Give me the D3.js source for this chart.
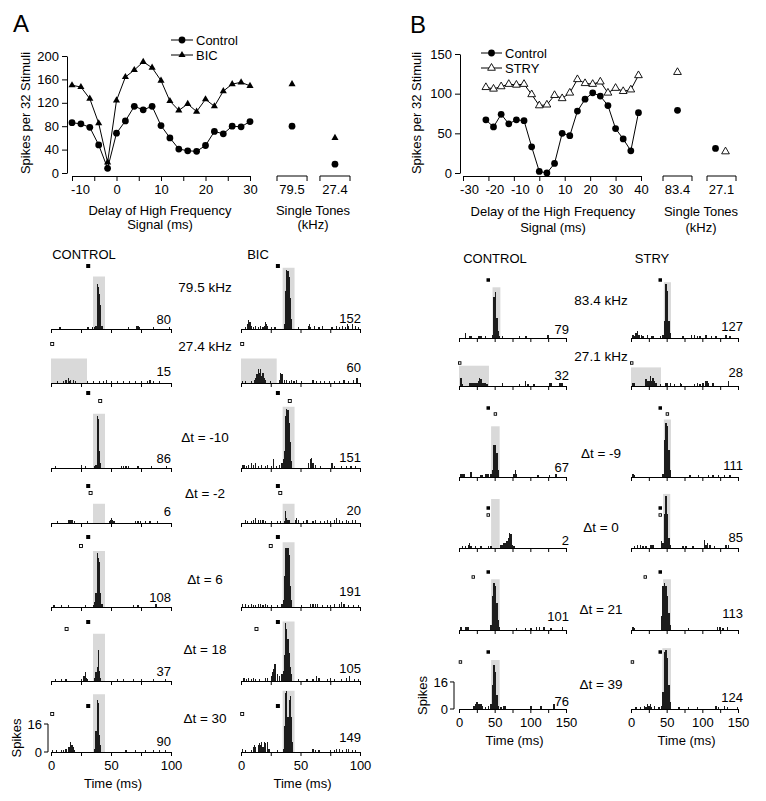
<!DOCTYPE html>
<html><head><meta charset="utf-8">
<script src="https://cdn.jsdelivr.net/npm/d3@7"></script>
<style>
body{margin:0;background:#fff}
svg{display:block}
text{font-family:"Liberation Sans",Arial,Helvetica,sans-serif;fill:#000}
</style>
</head><body>
<svg id="c" width="766" height="801"></svg>
<script>
// ---------------- DATA ----------------
// Panel A: delay functions
const delaysA = [-10,-8,-6,-4,-2,0,2,4,6,8,10,12,14,16,18,20,22,24,26,28,30];
const controlA = [86,84,78,48,8,68,89,114,108,114,81,60,41,38,37,47,71,67,80,79,88];
const bicA = [150,147,127,85,18,124,164,176,190,180,158,123,107,118,105,126,114,140,152,155,149];
const tonesA = ["79.5","27.4"];
const toneControlA = [80,15];
const toneBicA = [152,60];
const xTicksA = [-10,-5,0,5,10,15,20,25,30];
const xLabelsA = [-10,0,10,20,30];
const yTicksA = [0,40,80,120,160,200];

// Panel B: delay functions
const delaysB = [-21,-18,-15,-12,-9,-6,-3,0,3,6,9,12,15,18,21,24,27,30,33,36,39];
const controlB = [67,58,74,62,67,66,33,2,0,12,50,47,78,93,101,97,85,56,43,28,76];
const stryB = [108,106,109,112,111,112,99,85,86,98,94,101,118,113,112,115,101,107,103,105,123];
const tonesB = ["83.4","27.1"];
const toneControlB = [79,31];
const toneStryB = [127,27];
const xTicksB = [-30,-20,-10,0,10,20,30,40];
const yTicksB = [0,50,100,150];

// Panel A histograms
const rowLabelsA = ["79.5 kHz","27.4 kHz","\u0394t = -10","\u0394t = -2","\u0394t = 6","\u0394t = 18","\u0394t = 30"];
const countsA_control = [80,15,86,6,108,37,90];
const countsA_bic = [152,60,151,20,191,105,149];
const hfOnsetA = [31,null,31,31,31,31,31];
const lfOnsetA = [null,1,41,33,25,13,1];
// stimulus windows [start ms, end ms, height in spikes]
const windowA_control = [[35,45,30],[0,30,14],[35,45,31],[35,45,11],[35,45,32],[35,45,27],[35,45,33]];
const windowA_bic = [[35,45,35],[0,30,14],[35,45,35],[35,45,11],[35,45,37],[35,45,34],[35,45,35]];
// PSTH bins [ms, spikes]
const histA_control = [
 [[7,1],[30,1],[31,1],[34,1],[36,1],[37,2],[38,26],[39,24],[40,20],[41,14],[42,2],[64,1],[71,2],[72,2],[73,1],[85,1],[98,1]],
 [[5,1],[10,1],[12,2],[14,3],[15,1],[16,2],[18,2],[20,1],[30,1],[35,1],[40,1],[43,1],[46,2],[50,1],[55,1],[60,1],[65,1],[70,1],[75,1],[80,1],[82,2],[85,1],[90,1]],
 [[3,1],[25,2],[28,1],[36,1],[37,2],[38,30],[39,28],[40,10],[41,3],[58,1],[60,1],[62,1],[64,1],[72,1],[83,1],[96,1]],
 [[5,1],[14,2],[15,2],[16,2],[17,2],[19,1],[30,1],[48,1],[49,2],[50,3],[51,2],[52,1],[70,1],[72,1],[74,1],[78,1],[82,1],[88,1]],
 [[2,1],[8,1],[14,1],[28,1],[35,1],[36,3],[37,8],[38,31],[39,28],[40,26],[41,8],[42,2],[68,1],[72,1],[87,2]],
 [[3,1],[8,1],[12,1],[25,1],[27,3],[28,5],[29,2],[30,1],[36,2],[37,5],[38,8],[39,18],[40,6],[41,2],[55,1],[60,1],[68,1],[75,1],[85,1],[95,1]],
 [[1,1],[4,1],[8,1],[10,1],[12,2],[14,3],[15,3],[16,6],[17,4],[18,3],[19,1],[36,2],[37,12],[38,30],[39,28],[40,10],[41,4],[62,1],[70,1],[78,1],[85,1],[90,1],[95,1]]
];
const histA_bic = [
 [[3,1],[5,3],[6,5],[7,4],[8,2],[10,1],[12,2],[14,1],[16,2],[18,1],[19,2],[20,4],[21,3],[22,2],[25,1],[28,1],[36,3],[37,22],[38,34],[39,33],[40,30],[41,18],[42,6],[48,1],[56,2],[57,3],[58,1],[61,2],[65,1],[68,2],[76,1],[80,2],[82,1],[85,2],[87,1],[89,3],[90,2],[93,3],[96,2],[98,1]],
 [[1,1],[3,1],[8,1],[11,2],[12,3],[13,5],[14,8],[15,6],[16,8],[17,4],[18,6],[19,3],[20,2],[24,1],[32,2],[33,6],[34,5],[36,2],[38,2],[40,1],[42,2],[44,1],[46,2],[50,1],[60,2],[63,1],[66,1],[70,1],[74,1],[78,1],[82,1],[86,2],[90,1],[94,2],[97,3]],
 [[1,2],[2,2],[4,1],[6,2],[8,3],[10,2],[12,3],[14,1],[17,2],[20,1],[22,2],[25,1],[27,5],[29,1],[32,2],[34,3],[35,5],[36,10],[37,30],[38,34],[39,33],[40,26],[41,15],[42,4],[56,3],[58,5],[59,6],[60,3],[62,2],[66,1],[76,3],[78,1],[84,1],[88,1],[92,1],[96,1]],
 [[3,2],[5,1],[8,1],[10,2],[12,3],[14,2],[16,2],[18,2],[20,1],[25,1],[30,1],[33,1],[36,1],[37,7],[38,3],[39,2],[40,2],[45,2],[46,3],[48,2],[52,1],[55,2],[60,1],[62,2],[66,1],[70,1],[72,2],[75,1],[78,2],[80,3],[82,2],[85,1],[88,2],[90,1],[93,2],[96,2]],
 [[1,2],[3,2],[6,1],[8,2],[10,1],[12,1],[14,2],[16,2],[18,1],[20,2],[22,1],[25,1],[30,1],[34,2],[35,4],[36,18],[37,34],[38,34],[39,34],[40,30],[41,12],[42,4],[50,1],[58,2],[60,2],[62,2],[64,2],[68,1],[72,1],[75,1],[78,2],[82,2],[84,3],[86,2],[90,1],[94,1],[98,1]],
 [[2,2],[4,1],[6,2],[8,1],[10,2],[12,1],[15,1],[20,2],[22,2],[25,3],[26,5],[27,7],[28,10],[30,4],[32,3],[34,4],[35,6],[36,15],[37,33],[38,30],[39,24],[40,16],[41,8],[42,4],[48,1],[55,1],[60,1],[63,3],[65,2],[72,1],[75,2],[78,1],[84,1],[88,2],[91,3],[95,1],[98,1]],
 [[1,2],[3,1],[8,1],[10,3],[11,4],[12,3],[14,4],[15,5],[16,4],[17,6],[18,3],[19,6],[20,5],[22,6],[23,2],[30,1],[35,2],[36,15],[37,34],[38,35],[39,20],[40,30],[41,32],[42,20],[43,6],[60,2],[62,1],[65,1],[75,1],[78,1],[80,2],[82,2],[85,1],[88,2],[90,2],[93,1],[96,1]]
];

// Panel B histograms
const rowLabelsB = ["83.4 kHz","27.1 kHz","\u0394t = -9","\u0394t = 0","\u0394t = 21","\u0394t = 39"];
const countsB_control = [79,32,67,2,101,76];
const countsB_stry = [127,28,111,85,113,124];
const hfOnsetB = [41,null,41,41,41,41];
const lfOnsetB = [null,1,51,41,20,2];
const windowB_control = [[47,58,30],[0,42,12],[45,57,30],[45,57,29],[45,57,30],[45,57,29]];
const windowB_stry = [[46,56,33],[0,42,11],[46,56,34],[45,55,32],[45,56,30],[44,56,36]];
const histB_control = [
 [[8,3],[14,1],[16,1],[26,1],[28,1],[30,1],[36,1],[46,2],[48,24],[50,27],[52,12],[54,4],[56,1],[60,1],[84,1],[92,1],[94,1],[124,2]],
 [[2,5],[4,1],[14,2],[16,2],[18,2],[20,2],[22,2],[24,2],[26,3],[28,5],[30,4],[32,2],[34,2],[36,2],[38,1],[60,2],[84,1],[92,3],[96,1],[104,1],[126,2],[128,2],[140,2],[142,2],[144,2]],
 [[2,2],[4,2],[6,2],[16,3],[30,1],[32,1],[36,2],[38,2],[40,2],[44,2],[46,4],[48,19],[50,19],[52,14],[54,4],[76,2],[78,4],[80,2],[110,1],[126,1],[134,2],[136,2]],
 [[4,1],[8,1],[12,2],[14,3],[16,1],[22,1],[30,1],[40,1],[44,1],[58,2],[60,2],[62,3],[64,3],[66,4],[68,6],[70,9],[72,8],[74,2],[76,1]],
 [[2,2],[8,2],[10,2],[12,2],[44,3],[46,20],[48,28],[50,26],[52,16],[54,6],[56,2],[80,1],[92,1],[100,1],[108,2],[112,2],[118,2],[128,1],[144,2]],
 [[20,2],[22,3],[24,4],[26,3],[28,3],[30,3],[32,2],[36,1],[40,2],[44,3],[46,14],[48,26],[50,22],[52,8],[54,2],[58,1],[62,2],[64,2],[100,2],[114,2],[132,3]]
];
const histB_stry = [
 [[2,2],[4,1],[6,3],[8,4],[10,2],[14,2],[16,1],[22,2],[28,1],[30,1],[40,1],[44,2],[46,10],[48,32],[50,28],[52,10],[54,3],[72,1],[84,2],[88,2],[92,1],[96,1],[104,2],[112,1],[118,1],[132,2],[138,1]],
 [[2,2],[4,2],[20,4],[22,3],[24,3],[26,6],[28,3],[30,5],[32,3],[34,2],[40,1],[48,2],[50,2],[54,2],[60,1],[68,2],[70,1],[88,1],[92,2],[96,1],[100,2],[104,3],[106,3],[108,2],[114,2],[136,3]],
 [[2,2],[4,1],[44,2],[46,22],[48,32],[50,30],[52,16],[54,4],[82,1],[94,1],[108,1],[114,1],[122,1],[130,1],[138,1]],
 [[4,1],[8,2],[12,2],[16,1],[20,1],[26,2],[28,2],[30,2],[42,4],[44,3],[46,20],[48,31],[50,20],[52,6],[54,2],[72,1],[76,1],[86,1],[102,5],[104,2],[106,3],[110,2],[116,1],[132,2],[136,2]],
 [[2,2],[4,1],[42,8],[44,26],[46,28],[48,26],[50,20],[52,10],[54,3],[80,1],[120,2],[124,2],[128,1],[134,2]],
 [[6,1],[12,1],[18,2],[20,1],[22,3],[24,2],[26,3],[28,1],[32,2],[38,1],[42,2],[44,10],[46,34],[48,35],[50,30],[52,14],[54,4],[66,1],[80,1],[92,1],[118,2],[122,1],[130,2],[134,1],[148,1]]
];

// ---------------- DRAWING ----------------
const svg = d3.select("#c");
svg.append("rect").attr("width",766).attr("height",801).attr("fill","#fff");
const FF = '"Liberation Sans",Arial,Helvetica,sans-serif';

function label(x, y, s, size, anchor, rot) {
  const t = svg.append("text").attr("x", x).attr("y", y).attr("dy","0.35em")
    .attr("font-size", size || 13).attr("text-anchor", anchor || "middle").text(s);
  if (rot) t.attr("transform", `rotate(${rot},${x},${y})`);
  return t;
}
function styleAxis(g) {
  g.attr("font-family", FF).attr("font-size", 13);
  g.selectAll("path,line").attr("stroke","#000").attr("stroke-width",1);
  g.selectAll("text").attr("fill","#000");
}

function topChart(c) {
  const x = d3.scaleLinear().domain(c.xDomain).range(c.xRange);
  const y = d3.scaleLinear().domain(c.yDomain).range(c.yRange);
  const ya = svg.append("g").attr("transform",`translate(${c.yAxisX},0)`)
    .call(d3.axisLeft(y).tickValues(c.yTicks).tickSize(5).tickSizeOuter(0).tickPadding(3).tickFormat(d=>String(d)));
  styleAxis(ya);
  const xa = svg.append("g").attr("transform",`translate(0,${c.xAxisY})`)
    .call(d3.axisBottom(x).tickValues(c.xTicks).tickSize(5).tickSizeOuter(0).tickPadding(4)
      .tickFormat(d => c.xLabels.includes(d) ? String(d) : ""));
  styleAxis(xa);
  xa.selectAll(".tick text").filter(d => d < 0).attr("dx", c.negShift);

  // single-tone brackets
  const band = d3.scaleBand().domain(c.tones).range(c.toneRange).paddingInner(c.tonePad).paddingOuter(0);
  c.tones.forEach(tn => {
    const x0 = band(tn), x1 = x0 + band.bandwidth();
    svg.append("path").attr("d",`M${x0},${c.xAxisY+5}V${c.xAxisY}H${x1}V${c.xAxisY+5}`)
      .attr("fill","none").attr("stroke","#000").attr("stroke-width",1);
    svg.append("text").attr("x",(x0+x1)/2).attr("y",c.xAxisY+9).attr("dy","0.71em")
      .attr("font-size",13).attr("text-anchor","middle").text(tn);
  });

  const line = d3.line().x(d=>x(d[0])).y(d=>y(d[1]));
  c.series.forEach(s => {
    const pts = c.delays.map((d,i)=>[d, s.values[i]]);
    svg.append("path").attr("d", line(pts)).attr("fill","none").attr("stroke","#000").attr("stroke-width",1);
    const sym = d3.symbol().type(s.symbol).size(s.size);
    svg.append("g").selectAll("path").data(pts).join("path")
      .attr("transform", d=>`translate(${x(d[0])},${y(d[1])})`)
      .attr("d", sym()).attr("fill", s.fill).attr("stroke", s.stroke).attr("stroke-width", 0.9);
    s.tones.forEach((v,i) => {
      const cx = band(c.tones[i]) + band.bandwidth()/2 + s.toneOffset[i];
      svg.append("path").attr("transform",`translate(${cx},${y(v)})`).attr("d", sym())
        .attr("fill", s.fill).attr("stroke", s.stroke).attr("stroke-width", 0.9);
    });
    // legend
    const lg = c.legend;
    const ly = lg.y[s.idx];
    svg.append("line").attr("x1",lg.x0).attr("x2",lg.x1).attr("y1",ly).attr("y2",ly).attr("stroke","#000");
    svg.append("path").attr("transform",`translate(${(lg.x0+lg.x1)/2},${ly})`).attr("d", sym())
      .attr("fill", s.fill).attr("stroke", s.stroke).attr("stroke-width",0.9);
    label(lg.x1+3, ly, s.name, 13, "start");
  });
}

topChart({
  xDomain:[-10,30], xRange:[72,250], yDomain:[0,200], yRange:[173,56],
  yAxisX:67, xAxisY:176, yTicks:yTicksA, xTicks:xTicksA, xLabels:xLabelsA, negShift:8,
  tones:tonesA, toneRange:[277,350], tonePad:0.3, delays:delaysA,
  legend:{x0:171,x1:193,y:[40,55]},
  series:[
    {idx:0,name:"Control",values:controlA,tones:toneControlA,symbol:d3.symbolCircle,size:36,fill:"#000",stroke:"none",toneOffset:[0,0]},
    {idx:1,name:"BIC",values:bicA,tones:toneBicA,symbol:d3.symbolTriangle,size:22,fill:"#000",stroke:"none",toneOffset:[0,0]}
  ]
});
topChart({
  xDomain:[-30,40], xRange:[463,641], yDomain:[0,150], yRange:[173,54],
  yAxisX:460, xAxisY:176, yTicks:yTicksB, xTicks:xTicksB, xLabels:xTicksB, negShift:6,
  tones:tonesB, toneRange:[663,736], tonePad:0.341, delays:delaysB,
  legend:{x0:481,x1:502,y:[53,68]},
  series:[
    {idx:0,name:"Control",values:controlB,tones:toneControlB,symbol:d3.symbolCircle,size:36,fill:"#000",stroke:"none",toneOffset:[0,-6]},
    {idx:1,name:"STRY",values:stryB,tones:toneStryB,symbol:d3.symbolTriangle,size:26,fill:"#fff",stroke:"#000",toneOffset:[0,4]}
  ]
});

// panel letters and titles
label(13, 24, "A", 24, "start");
label(410, 25, "B", 24, "start");
label(25, 113, "Spikes per 32 Stimuli", 13, "middle", -90);
label(416, 113, "Spikes per 32 Stimuli", 13, "middle", -90);
label(160, 210, "Delay of High Frequency");
label(160, 224, "Signal (ms)");
label(313, 210, "Single Tones");
label(313, 224, "(kHz)");
label(553, 211, "Delay of the High Frequency");
label(553, 227, "Signal  (ms)");
label(701, 211, "Single Tones");
label(701, 227, "(kHz)");

// ---------------- HISTOGRAMS ----------------
function histPanel(p) {
  p.cols.forEach((col, j) => {
    const x = d3.scaleLinear().domain([0, p.tMax]).range([col.x0, col.x1]);
    p.axisY.forEach((ay, i) => {
      const y = d3.scaleLinear().domain([0, 16]).range([ay, ay - 16*p.spikePx]);
      const w = col.windows[i];
      svg.append("rect").attr("x", x(w[0])).attr("width", x(w[1]) - x(w[0]))
        .attr("y", y(w[2])).attr("height", ay - y(w[2])).attr("fill", "#d9d9d9");
      const bw = Math.max(1, x(p.bin) - x(0));
      svg.append("g").attr("shape-rendering","crispEdges").selectAll("rect").data(col.hist[i]).join("rect")
        .attr("x", d => x(d[0])).attr("width", bw)
        .attr("y", d => y(d[1])).attr("height", d => ay - y(d[1])).attr("fill", "#1c1c1c");
      const last = i === p.axisY.length - 1;
      const ax = svg.append("g").attr("transform", `translate(0,${ay})`)
        .call(d3.axisBottom(x).tickValues(p.ticks).tickSize(4).tickSizeOuter(0).tickPadding(5)
          .tickFormat(d => last && p.labels.includes(d) ? String(d) : ""));
      styleAxis(ax);
      // stimulus markers
      const s = p.mark;
      if (p.hf[i] !== null) {
        svg.append("rect").attr("x", x(p.hf[i]) - s/2).attr("y", p.hfY[i] - s/2)
          .attr("width", s).attr("height", s).attr("fill", "#000");
      }
      if (p.lf[i] !== null) {
        svg.append("rect").attr("x", x(p.lf[i]) - s/2 + 0.5).attr("y", p.lfY[i] - s/2 + 0.5)
          .attr("width", s - 1).attr("height", s - 1).attr("fill", "#fff").attr("stroke", "#000").attr("stroke-width", 0.9);
      }
      // spike count
      label(col.countX, ay + col.countDy[i], String(col.counts[i]), 13, "end");
      if (last) label((col.x0 + col.x1) / 2 + 2, ay + 31, "Time (ms)");
    });
    label(col.headX, p.headY, col.head);
  });
  p.rowLabels.forEach((t, i) => label(p.midX, p.midY[i], t, 13.5));
  // scale bar
  const ay = p.axisY[p.axisY.length - 1];
  const top = ay - 16 * p.spikePx;
  svg.append("path").attr("d", `M${p.barX - 4},${top}H${p.barX}V${ay}H${p.barX - 4}`)
    .attr("fill", "none").attr("stroke", "#000").attr("stroke-width", 1);
  label(p.barX - 6, top, "16", 13, "end");
  label(p.barX - 6, ay, "0", 13, "end");
  label(p.spikesX, ay - 8 * p.spikePx, "Spikes", 13, "middle", -90);
}

histPanel({
  tMax:100, bin:1, spikePx:1.75, ticks:[0,25,50,75,100], labels:[0,50,100],
  axisY:[329,383,468,523,607,681,752], hf:hfOnsetA, lf:lfOnsetA,
  hfY:[266,null,393,486,537,622,706], lfY:[null,344,401,493,546,629,714], mark:4,
  rowLabels:rowLabelsA, midX:205, midY:[287,346,437,493,579,649,718],
  headY:254, barX:48, spikesX:16,
  cols:[
    {x0:51,x1:171,hist:histA_control,windows:windowA_control,counts:countsA_control,countX:171,
     countDy:[-10,-12,-10,-12,-10,-10,-11],head:"CONTROL",headX:84},
    {x0:241,x1:360,hist:histA_bic,windows:windowA_bic,counts:countsA_bic,countX:361,
     countDy:[-11,-16,-11,-13,-16,-13,-15],head:"BIC",headX:258}
  ]
});
histPanel({
  tMax:150, bin:2, spikePx:1.69, ticks:[0,25,50,75,100,125,150], labels:[0,50,100,150],
  axisY:[338,386,477,548,630,709], hf:hfOnsetB, lf:lfOnsetB,
  hfY:[280,null,408,508,572,652], lfY:[null,363,414,515,577,662], mark:3.5,
  rowLabels:rowLabelsB, midX:601, midY:[300,356,453,527,609,684],
  headY:258, barX:454, spikesX:422,
  cols:[
    {x0:459,x1:566,hist:histB_control,windows:windowB_control,counts:countsB_control,countX:569,
     countDy:[-9,-11,-10,-8,-14,-8],head:"CONTROL",headX:495},
    {x0:631,x1:738,hist:histB_stry,windows:windowB_stry,counts:countsB_stry,countX:743,
     countDy:[-12,-14,-12,-11,-17,-12],head:"STRY",headX:652}
  ]
});
</script>
</body></html>
